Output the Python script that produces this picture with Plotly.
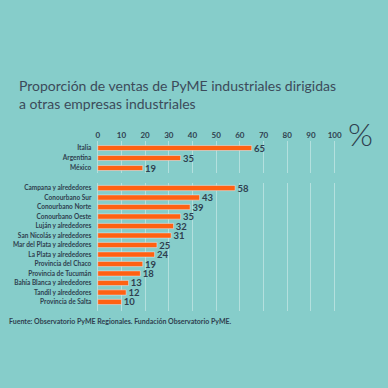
import plotly.graph_objects as go

top_categories = ["Italia", "Argentina", "México"]
top_values = [65, 35, 19]

bottom_categories = [
    "Campana y alrededores", "Conourbano Sur", "Conourbano Norte", "Conourbano Oeste",
    "Luján y alrededores", "San Nicolás y alrededores", "Mar del Plata y alrededores",
    "La Plata y alrededores", "Provincia del Chaco", "Provincia de Tucumán",
    "Bahía Blanca y alrededores", "Tandil y alrededores", "Provincia de Salta",
]
bottom_values = [58, 43, 39, 35, 32, 31, 25, 24, 19, 18, 13, 12, 10]

x_ticks = [0, 10, 20, 30, 40, 50, 60, 70, 80, 90, 100]

BG = "#86cdca"
BAR = "#ff6112"
TXT = "#2f3f4f"
GRID = "rgba(255,255,255,0.38)"
FONT = "Lato"
W = 388.0

def py(px_top):
    return (W - px_top) / W

NB = "\u00a0"

fig = go.Figure()
fig.add_trace(go.Bar(
    x=top_values, y=top_categories, orientation="h", marker_color=BAR, width=0.5,
    text=[NB + str(v) for v in top_values], textposition="outside", cliponaxis=False,
    constraintext="none",
    textfont=dict(size=9.5, color=TXT, family=FONT, weight=700),
    xaxis="x", yaxis="y", showlegend=False, hoverinfo="skip",
))
fig.add_trace(go.Bar(
    x=bottom_values, y=bottom_categories, orientation="h", marker_color=BAR, width=0.55,
    text=[NB + str(v) for v in bottom_values], textposition="outside", cliponaxis=False,
    constraintext="none",
    textfont=dict(size=9.5, color=TXT, family=FONT, weight=700),
    xaxis="x2", yaxis="y2", showlegend=False, hoverinfo="skip",
))

xdom = [96.6 / W, 341.4 / W]
common_x = dict(range=[-1, 101], domain=xdom, showgrid=True, gridcolor=GRID, gridwidth=1,
                zeroline=False, showline=False, tickvals=x_ticks, ticks="", fixedrange=True)
fig.update_layout(
    width=388, height=388,
    paper_bgcolor=BG, plot_bgcolor=BG,
    margin=dict(l=0, r=0, t=0, b=0),
    bargap=0,
    xaxis=dict(**common_x, anchor="y", side="top",
               tickfont=dict(size=8, color=TXT, family=FONT, weight=700)),
    xaxis2=dict(**common_x, anchor="y2", showticklabels=False),
    yaxis=dict(domain=[py(173), py(141)], range=[2.5, -0.7], showgrid=False, zeroline=False,
               ticks="", ticklabelstandoff=3, fixedrange=True,
               tickfont=dict(size=6.5, color=TXT, family=FONT, weight=700)),
    yaxis2=dict(domain=[py(311), py(183)], range=[12.95, -0.53], showgrid=False, zeroline=False,
                ticks="", ticklabelstandoff=3, fixedrange=True,
                tickfont=dict(size=6.5, color=TXT, family=FONT, weight=700)),
    font=dict(family=FONT, color=TXT),
)

fig.add_annotation(
    text="Proporción de ventas de PyME industriales dirigidas<br>a otras empresas industriales",
    xref="paper", yref="paper", x=17 / W, y=py(75), xanchor="left", yanchor="top",
    align="left", showarrow=False,
    font=dict(size=14, color="#3c4b5a", family=FONT, weight=400),
)
fig.add_annotation(
    text="%", xref="paper", yref="paper", x=365 / W, y=py(133), xanchor="center", yanchor="middle",
    showarrow=False, font=dict(size=32, color="#2f3f4f", family=FONT, weight=300),
)
fig.add_annotation(
    text="Fuente: Observatorio PyME Regionales. Fundación Observatorio PyME.",
    xref="paper", yref="paper", x=7 / W, y=py(321), xanchor="left", yanchor="middle",
    showarrow=False, font=dict(size=7, color=TXT, family=FONT, weight=700),
)

fig.write_html(
    "out.html",
    config={"displayModeBar": False, "staticPlot": True},
    post_script="document.body.style.margin='0';document.body.style.background='" + BG + "';",
)
